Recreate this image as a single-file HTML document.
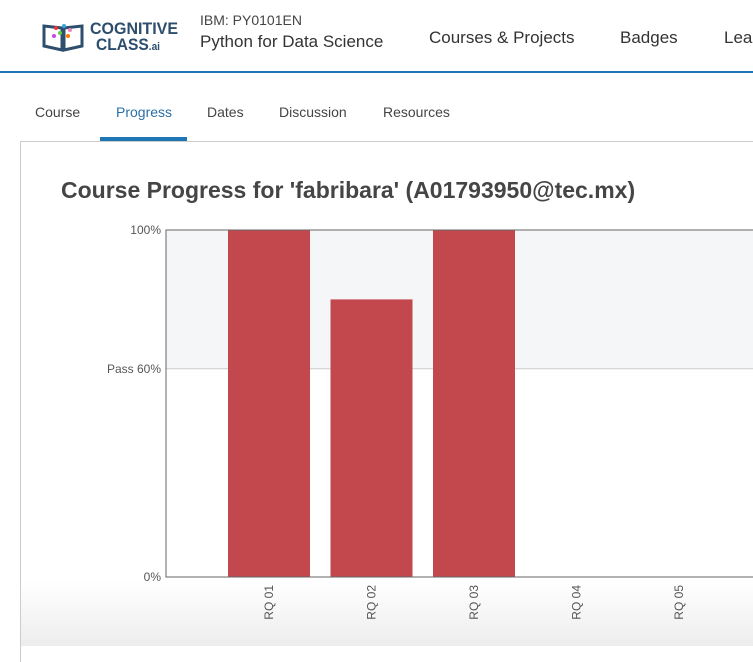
<!DOCTYPE html>
<html><head><meta charset="utf-8"><style>
body{margin:0;width:753px;height:646px;overflow:hidden;background:#fff;font-family:"Liberation Sans",sans-serif;position:relative}
.abs{position:absolute}
.hdr{left:0;top:0;width:753px;height:71px;border-bottom:2px solid #1e77b4;background:#fff}
.nav{top:28px;font-size:17px;color:#333}
.tab{top:104px;font-size:14px;color:#444}
</style></head><body>
<div class="abs hdr"></div>
<div class="abs" style="left:20px;top:141px;width:760px;height:520px;border-top:1px solid #ccc;border-left:1px solid #ccc"></div>
<div class="abs" style="left:21px;top:580px;width:732px;height:66px;background:linear-gradient(rgba(255,255,255,0),#ededed)"></div>
<div class="abs" style="left:42px;top:18px;width:140px;height:34px">
<svg width="140" height="34"><path d="M2 8 v20 l18 4 v-22z M40 8 v20 l-18 4 v-22z" fill="none" stroke="#2d4e6c" stroke-width="3"/>
<circle cx="14" cy="10" r="2" fill="#e33"/><circle cx="22" cy="8" r="2" fill="#3ad"/><circle cx="28" cy="12" r="2" fill="#e8b"/><circle cx="18" cy="15" r="2" fill="#6c4"/><circle cx="26" cy="18" r="2" fill="#f70"/><circle cx="12" cy="18" r="2" fill="#c4e"/>
<text x="48" y="16" font-size="17" font-weight="bold" fill="#2d4e6c" textLength="88" lengthAdjust="spacingAndGlyphs">COGNITIVE</text>
<text x="54" y="32" font-size="17" font-weight="bold" fill="#2d4e6c" textLength="64" lengthAdjust="spacingAndGlyphs">CLASS<tspan font-size="11">.ai</tspan></text></svg></div>
<div class="abs" style="left:200px;top:12px;font-size:14px;color:#444">IBM: PY0101EN</div>
<div class="abs" style="left:200px;top:32px;font-size:17px;color:#333">Python for Data Science</div>
<div class="abs nav" style="left:429px">Courses &amp; Projects</div>
<div class="abs nav" style="left:620px">Badges</div>
<div class="abs nav" style="left:724px">Learn</div>
<div class="abs tab" style="left:35px">Course</div>
<div class="abs tab" style="left:116px;color:#2c6fa8">Progress</div>
<div class="abs" style="left:100px;top:137px;width:87px;height:4px;background:#1e77b4"></div>
<div class="abs tab" style="left:207px">Dates</div>
<div class="abs tab" style="left:279px">Discussion</div>
<div class="abs tab" style="left:383px">Resources</div>
<div class="abs" style="left:61px;top:177px;font-size:23px;font-weight:bold;color:#454545">Course Progress for 'fabribara' (A01793950@tec.mx)</div>
<svg class="abs" style="left:0;top:0" width="753" height="646" id="chart"></svg>
<script>
const categories=["RQ 01","RQ 02","RQ 03","RQ 04","RQ 05"];
const scores=[100,80,100,0,0];
const tickValues=[0,60,100];
const tickLabels=["0%","Pass 60%","100%"];
const svg=document.getElementById('chart');const NS="http://www.w3.org/2000/svg";
const x0=166,yTop=230,yBot=577,step=102.5,barW=82;
const y=v=>yBot-(yBot-yTop)*v/100;
const cx=i=>x0+62+barW/2+i*step;
function mk(t,a){const e=document.createElementNS(NS,t);for(const k in a)e.setAttribute(k,a[k]);svg.appendChild(e);return e;}
let r=mk('rect',{x:x0,y:y(100),width:753-x0,height:y(60)-y(100),fill:'#f5f6f8'});


let g=mk('line',{x1:x0,x2:753,y1:y(60),y2:y(60),stroke:'#ccc'});


scores.forEach((v,i)=>{if(v<=0)return;const b=mk('rect',{x:cx(i)-barW/2,y:y(v),width:barW,height:yBot-y(v),fill:'#c2484e'});

});
let ax=mk('path',{d:`M753 ${y(100)}H${x0}V${yBot}H753`,fill:'none',stroke:'#666'});


tickValues.forEach((v,i)=>{const t=mk('text',{x:161,y:y(v)+4,'text-anchor':'end','font-size':12,fill:'#555'});t.textContent=tickLabels[i];

});
categories.forEach((c,i)=>{const t=mk('text',{x:0,y:0,'text-anchor':'end','font-size':12,fill:'#555',transform:`translate(${cx(i)+4},585) rotate(-90)`});t.textContent=c;

});
</script>
</body></html>
